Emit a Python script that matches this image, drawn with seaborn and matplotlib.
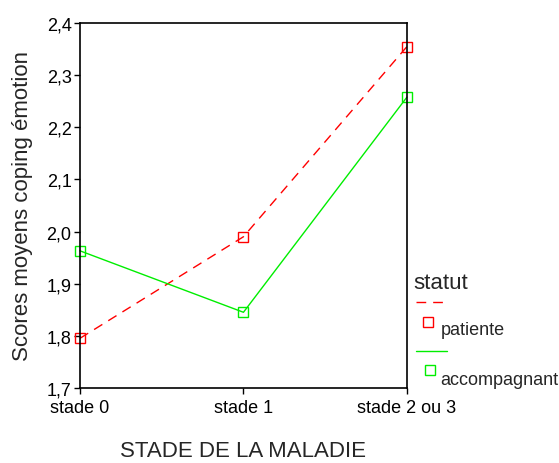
import pandas as pd
import matplotlib
matplotlib.use("Agg")
import matplotlib.pyplot as plt
from matplotlib.lines import Line2D
from matplotlib.ticker import FuncFormatter, MultipleLocator
import seaborn as sns

# Data
stades = ["stade 0", "stade 1", "stade 2 ou 3"]
patiente = [1.795, 1.990, 2.355]
accompagnant = [1.963, 1.845, 2.258]
groupes = ["patiente", "accompagnant"]
couleurs = {"patiente": "#ff0000", "accompagnant": "#00ee00"}

df = pd.DataFrame({
    "stade": stades * 2,
    "score": patiente + accompagnant,
    "statut": ["patiente"] * 3 + ["accompagnant"] * 3,
})

sns.set_style("white")
plt.rcParams["font.family"] = ["Liberation Sans", "DejaVu Sans"]

fig = plt.figure(figsize=(5.59, 4.64), dpi=100)
ax = fig.add_axes([0.143, 0.162, 0.585, 0.786])

sns.lineplot(data=df, x="stade", y="score", hue="statut", style="statut",
             hue_order=groupes, style_order=groupes, palette=couleurs,
             markers={"patiente": "s", "accompagnant": "s"},
             dashes={"patiente": (7, 5), "accompagnant": ""},
             markersize=7, linewidth=1, legend=False, ax=ax)
for line in ax.lines:
    line.set_markeredgecolor(line.get_color())
    line.set_markerfacecolor("none")
    line.set_markeredgewidth(1)
    line.set_clip_on(False)

ax.set_xlim(0, 2)
ax.set_ylim(1.7, 2.4)
ax.yaxis.set_major_locator(MultipleLocator(0.1))
ax.yaxis.set_major_formatter(FuncFormatter(lambda v, p: f"{v:.1f}".replace(".", ",")))
ax.tick_params(axis="both", labelsize=13, length=4, width=1, direction="out",
               left=True, bottom=True, colors="black", pad=2)
ax.tick_params(axis="x", pad=4)
for s in ax.spines.values():
    s.set_color("black")
    s.set_linewidth(1.2)
ax.set_xlabel("STADE DE LA MALADIE", fontsize=16, labelpad=17)
ax.set_ylabel("Scores moyens coping émotion", fontsize=16, labelpad=10)

# SPSS-style legend on the right
fig.text(0.739, 0.390, "statut", fontsize=16, va="center")
fig.add_artist(Line2D([0.744, 0.80], [0.347, 0.347], color=couleurs["patiente"],
                      dashes=(7, 5), lw=1, transform=fig.transFigure))
fig.add_artist(Line2D([0.766], [0.304], marker="s", mfc="none", mec=couleurs["patiente"],
                      ms=7, lw=0, transform=fig.transFigure))
fig.text(0.788, 0.287, "patiente", fontsize=13, va="center")
fig.add_artist(Line2D([0.744, 0.80], [0.241, 0.241], color=couleurs["accompagnant"],
                      lw=1, transform=fig.transFigure))
fig.add_artist(Line2D([0.769], [0.200], marker="s", mfc="none", mec=couleurs["accompagnant"],
                      ms=7, lw=0, transform=fig.transFigure))
fig.text(0.788, 0.181, "accompagnant", fontsize=13, va="center")

fig.savefig("out.png", dpi=100)
